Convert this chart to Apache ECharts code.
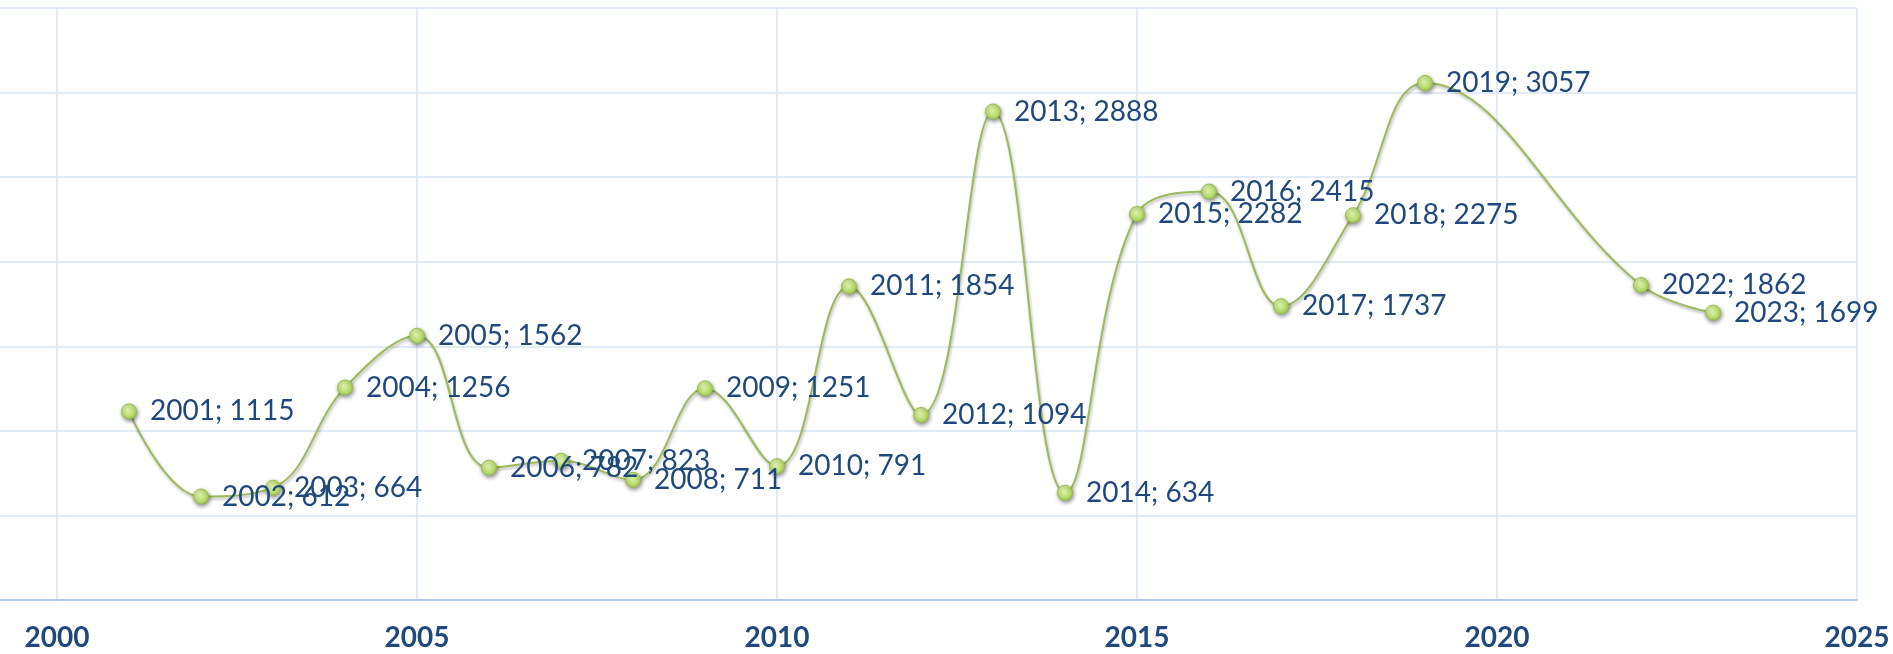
<!DOCTYPE html>
<html>
<head>
<meta charset="utf-8">
<script src="https://cdn.jsdelivr.net/npm/echarts@6/dist/echarts.min.js"></script>
<style>
html,body{margin:0;padding:0;background:#fff;}
#chart{width:1893px;height:654px;}
</style>
</head>
<body>
<div id="chart"></div>
<script>
const years = [2001,2002,2003,2004,2005,2006,2007,2008,2009,2010,2011,2012,2013,2014,2015,2016,2017,2018,2019,2022,2023];
const values = [1115,612,664,1256,1562,782,823,711,1251,791,1854,1094,2888,634,2282,2415,1737,2275,3057,1862,1699];
const xMin = 2000, xMax = 2025, xStep = 5;
const yMin = 0, yMax = 3500, yStep = 500;

const points = years.map((y, i) => [y, values[i]]);
const gridColor = '#d7e4f4';
const axisColor = '#a3bfe6';
const textColor = '#1f497d';
const fontFamily = 'Lato, "Open Sans", sans-serif';

const chart = echarts.init(document.getElementById('chart'), null, {renderer: 'canvas'});
chart.setOption({
  animation: false,
  grid: [
    {left: 57, right: 36, top: 8, bottom: 54, containLabel: false},
    {left: 0, width: 57, top: 8, bottom: 54, containLabel: false}
  ],
  xAxis: [
    {
      gridIndex: 0, type: 'value', min: xMin, max: xMax, interval: xStep,
      axisLine: {show: true, onZero: false, lineStyle: {color: axisColor, width: 1.5}},
      axisTick: {show: false},
      splitLine: {show: true, lineStyle: {color: gridColor, width: 1.5}},
      axisLabel: {show: true, color: textColor, fontFamily: fontFamily, fontWeight: 'bold', fontSize: 28, margin: 24,
        formatter: v => String(v)}
    },
    {
      gridIndex: 1, type: 'value', min: 0, max: 1,
      axisLine: {show: true, onZero: false, lineStyle: {color: axisColor, width: 1.5}},
      axisTick: {show: false}, splitLine: {show: false}, axisLabel: {show: false}
    }
  ],
  yAxis: [
    {
      gridIndex: 0, type: 'value', min: yMin, max: yMax, interval: yStep,
      axisLine: {show: false}, axisTick: {show: false}, axisLabel: {show: false},
      splitLine: {show: true, lineStyle: {color: gridColor, width: 1.5}}
    },
    {
      gridIndex: 1, type: 'value', min: yMin, max: yMax, interval: yStep,
      axisLine: {show: false}, axisTick: {show: false}, axisLabel: {show: false},
      splitLine: {show: true, lineStyle: {color: gridColor, width: 1.5}}
    }
  ],
  series: [{
    type: 'line',
    xAxisIndex: 0, yAxisIndex: 0,
    data: points,
    smooth: 0.4,
    symbol: 'circle',
    symbolSize: 15,
    lineStyle: {color: '#9bbb59', width: 2, shadowBlur: 3, shadowColor: 'rgba(0,0,0,0.3)', shadowOffsetX: 1, shadowOffsetY: 2},
    itemStyle: {
      color: {type: 'radial', x: 0.4, y: 0.35, r: 0.7,
        colorStops: [{offset: 0, color: '#e6f7b4'}, {offset: 1, color: '#a6d34f'}]},
      borderColor: '#94c044', borderWidth: 1,
      shadowBlur: 4, shadowColor: 'rgba(0,0,0,0.45)', shadowOffsetX: 1, shadowOffsetY: 2
    },
    label: {
      show: true, position: 'right', distance: 13,
      color: textColor, fontFamily: fontFamily, fontSize: 28,
      formatter: p => p.value[0] + '; ' + p.value[1]
    },
    emphasis: {disabled: true}
  }]
});
</script>
</body>
</html>
